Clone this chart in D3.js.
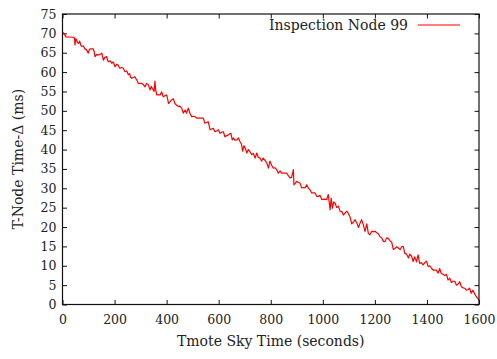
<!DOCTYPE html>
<html>
<head>
<meta charset="utf-8">
<script src="https://cdn.jsdelivr.net/npm/d3@7"></script>
<style>
  html, body { margin: 0; padding: 0; background: #fff; }
  svg { display: block; }
  text { font-family: "DejaVu Serif", serif; fill: #222; }
</style>
</head>
<body>
<svg id="chart" width="497" height="359"></svg>
<script>
// ---- data ----
const seriesName = "Inspection Node 99";
const xLabel = "Tmote Sky Time (seconds)";
const yLabel = "T-Node Time-\u0394 (ms)";
const xTicks = [0, 200, 400, 600, 800, 1000, 1200, 1400, 1600];
const yTicks = [0, 5, 10, 15, 20, 25, 30, 35, 40, 45, 50, 55, 60, 65, 70, 75];
const times = [
  0, 6, 13, 42, 46, 48, 51, 54, 58, 61, 66, 70, 74, 80, 86, 92, 99, 103, 106, 118,
  122, 125, 132, 138, 145, 151, 154, 157, 163, 170, 173, 176, 183, 189, 195, 202, 208, 214, 218, 221,
  228, 234, 237, 240, 247, 253, 258, 262, 266, 272, 278, 282, 285, 291, 298, 304, 310, 317, 323, 330,
  336, 341, 345, 352, 355, 358, 362, 368, 375, 381, 387, 393, 400, 404, 407, 413, 419, 426, 432, 438,
  445, 451, 458, 464, 471, 477, 483, 490, 496, 503, 509, 516, 528, 541, 547, 553, 560, 564, 567, 573,
  579, 586, 592, 599, 605, 612, 618, 624, 631, 637, 647, 652, 656, 663, 670, 676, 682, 688, 692, 697,
  703, 708, 714, 720, 727, 733, 740, 746, 752, 759, 765, 771, 778, 785, 791, 797, 803, 810, 817, 823,
  829, 836, 842, 852, 861, 868, 874, 880, 887, 889, 894, 900, 906, 912, 919, 925, 932, 938, 945, 951,
  957, 964, 970, 977, 983, 989, 996, 1005, 1015, 1021, 1028, 1032, 1037, 1042, 1047, 1053, 1060, 1066, 1073, 1079,
  1085, 1092, 1098, 1105, 1111, 1118, 1124, 1131, 1137, 1143, 1149, 1156, 1162, 1169, 1175, 1181, 1188, 1194, 1201, 1207,
  1214, 1220, 1226, 1233, 1239, 1245, 1252, 1258, 1265, 1271, 1278, 1284, 1290, 1297, 1303, 1309, 1315, 1322, 1329, 1334,
  1341, 1347, 1353, 1360, 1366, 1372, 1379, 1385, 1392, 1398, 1405, 1411, 1418, 1424, 1430, 1436, 1443, 1449, 1455, 1462,
  1468, 1475, 1481, 1488, 1494, 1500, 1507, 1513, 1520, 1526, 1532, 1539, 1545, 1551, 1557, 1564, 1570, 1577, 1583, 1590,
  1595, 1600
];
const deltas = [
  70.2, 70.0, 69.1, 69.0, 68.8, 67.0, 68.6, 68.3, 67.6, 67.4, 68.0, 67.0, 66.6, 66.8, 66.0, 65.8, 64.9, 65.8, 66.0, 66.0,
  65.2, 64.0, 64.6, 64.4, 64.6, 64.9, 64.0, 63.1, 63.8, 64.0, 63.0, 62.7, 62.9, 62.3, 62.6, 61.4, 62.0, 61.8, 61.2, 61.0,
  61.2, 61.0, 60.5, 60.1, 60.3, 59.3, 59.6, 58.6, 58.4, 58.6, 58.8, 58.3, 58.0, 57.1, 57.1, 57.1, 56.8, 56.2, 57.1, 56.7,
  55.4, 56.3, 55.8, 55.0, 57.7, 55.5, 54.1, 54.1, 54.1, 54.9, 53.6, 53.9, 54.1, 53.0, 51.9, 52.3, 52.8, 53.1, 51.9, 51.5,
  51.1, 51.2, 50.7, 49.4, 50.2, 49.4, 50.7, 49.3, 48.5, 48.6, 48.5, 48.1, 48.1, 48.1, 46.8, 47.0, 47.2, 46.0, 45.1, 45.3,
  45.5, 44.6, 44.8, 45.1, 44.2, 44.5, 44.6, 43.3, 43.6, 43.8, 44.2, 42.5, 43.0, 42.4, 42.5, 43.0, 42.0, 41.3, 39.6, 41.0,
  40.2, 39.1, 40.0, 39.5, 38.7, 39.0, 37.8, 39.1, 38.0, 37.8, 37.0, 37.8, 37.2, 36.5, 35.2, 37.0, 36.0, 35.2, 35.3, 34.8,
  33.9, 34.5, 33.9, 33.9, 33.9, 33.2, 32.7, 32.8, 34.8, 30.9, 31.3, 31.8, 31.5, 31.4, 30.1, 30.2, 30.1, 30.9, 30.0, 29.6,
  28.8, 28.8, 28.8, 27.9, 27.9, 28.2, 27.1, 27.2, 27.1, 28.4, 24.5, 27.5, 24.9, 26.5, 26.2, 25.0, 25.4, 24.1, 24.0, 23.1,
  23.6, 24.1, 23.5, 22.5, 20.8, 21.3, 21.9, 21.0, 19.9, 21.0, 21.9, 20.5, 18.9, 20.8, 18.3, 18.0, 18.9, 18.8, 18.9, 18.5,
  18.2, 17.5, 17.2, 16.3, 16.2, 17.2, 17.0, 16.5, 16.0, 14.2, 14.5, 14.9, 14.6, 14.2, 14.9, 15.0, 13.2, 13.0, 12.0, 13.0,
  12.5, 11.1, 12.3, 11.0, 12.8, 10.6, 10.8, 10.2, 10.8, 11.2, 9.8, 10.0, 9.3, 8.9, 8.9, 8.9, 8.1, 9.3, 8.0, 7.8,
  7.5, 7.8, 6.3, 6.8, 5.7, 6.0, 6.0, 5.0, 5.3, 5.9, 4.6, 4.3, 4.2, 3.7, 3.8, 4.2, 2.9, 3.7, 2.8, 2.0,
  1.6, 1.0
];

// ---- layout ----
const W = 497, H = 359;
const m = { left: 62.5, right: 18, top: 14, bottom: 54.5 };
const iw = W - m.left - m.right, ih = H - m.top - m.bottom;

const svg = d3.select("#chart");
const g = svg.append("g").attr("transform", `translate(${m.left},${m.top})`);

const x = d3.scaleLinear().domain([0, 1600]).range([0, iw]);
const y = d3.scaleLinear().domain([0, 75]).range([ih, 0]);

const tickLen = -4.5;
const fs = 12.5;

// bottom axis
const gx = g.append("g").attr("transform", `translate(0,${ih})`)
  .call(d3.axisBottom(x).tickValues(xTicks).tickSize(tickLen).tickPadding(11).tickFormat(d3.format("d")));
// left axis
const gy = g.append("g")
  .call(d3.axisLeft(y).tickValues(yTicks).tickSize(tickLen).tickPadding(6).tickFormat(d3.format("d")));
// mirrored axes
const gt = g.append("g").call(d3.axisTop(x).tickValues(xTicks).tickSize(tickLen).tickFormat(""));
const gr = g.append("g").attr("transform", `translate(${iw},0)`)
  .call(d3.axisRight(y).tickValues(yTicks).tickSize(tickLen).tickFormat(""));

[gx, gy, gt, gr].forEach(a => {
  a.select(".domain").remove();
  a.selectAll(".tick line").attr("stroke", "#111").attr("stroke-width", 1);
  a.selectAll("text").style("font-family", "'DejaVu Serif', serif").style("font-size", fs + "px").attr("fill", "#222");
});

// data line
const pts = times.map((t, i) => [t, deltas[i]]);
g.append("path")
  .datum(pts)
  .attr("fill", "none")
  .attr("stroke", "#ff0000")
  .attr("stroke-width", 1.2)
  .attr("stroke-linejoin", "round")
  .attr("d", d3.line().x(d => x(d[0])).y(d => y(d[1])));

// frame
g.append("rect").attr("x", 0).attr("y", 0).attr("width", iw).attr("height", ih)
  .attr("fill", "none").attr("stroke", "#111").attr("stroke-width", 1.2);

// axis labels
svg.append("text")
  .attr("x", m.left + iw / 2).attr("y", 346)
  .attr("text-anchor", "middle")
  .style("font-size", "14px")
  .text(xLabel);

svg.append("text")
  .attr("transform", `translate(23,${m.top + ih / 2}) rotate(-90)`)
  .attr("text-anchor", "middle")
  .style("font-size", "14px")
  .text(yLabel);

// legend
const lg = svg.append("g");
lg.append("text")
  .attr("x", 408).attr("y", 30)
  .attr("text-anchor", "end")
  .style("font-size", "14px")
  .text(seriesName);
lg.append("line")
  .attr("x1", 418).attr("x2", 460).attr("y1", 25).attr("y2", 25)
  .attr("stroke", "#ff0000").attr("stroke-width", 1.2);
</script>
</body>
</html>
